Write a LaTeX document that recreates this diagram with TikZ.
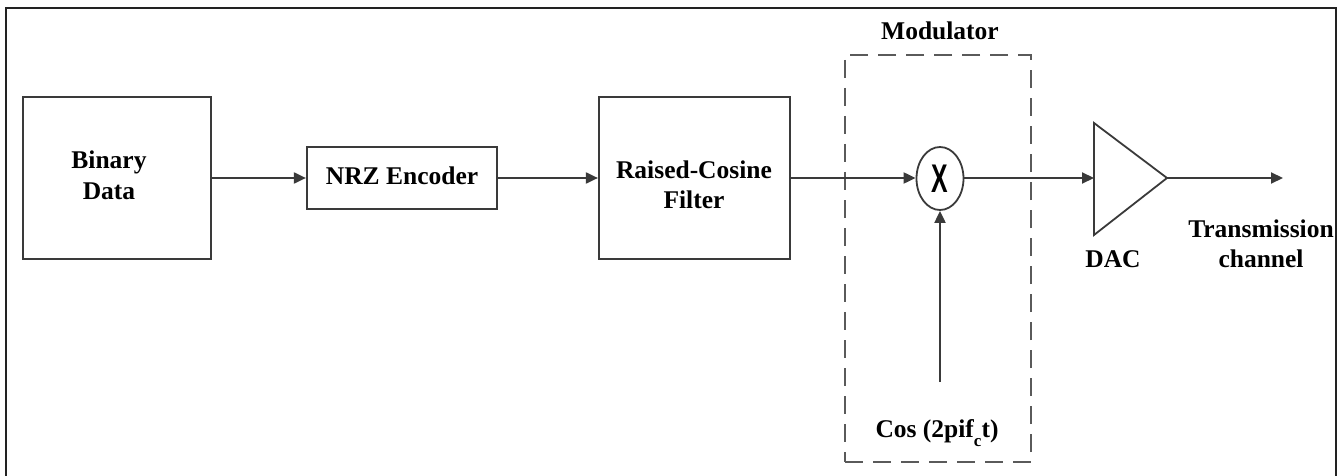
\documentclass[tikz,border=0pt]{standalone}
\usepackage{fontspec}
\usepackage{graphicx}
\setmainfont{Liberation Serif}
\setsansfont{Liberation Sans}
\usetikzlibrary{arrows.meta,shapes.geometric}
\definecolor{framecol}{HTML}{222222}
\definecolor{linecol}{HTML}{3A3A3A}
\definecolor{dashcol}{HTML}{5A5A5A}
\tikzset{
  blockbox/.style={draw=linecol, line width=2.2pt, rectangle, inner sep=0pt},
  lbl/.style={font=\bfseries\fontsize{25.5}{30.5}\selectfont, align=center, inner sep=0pt, text=black},
  sig/.style={draw=linecol, line width=2pt, -{Triangle[length=12pt,width=11pt]}},
  modbox/.style={draw=dashcol, line width=2pt, dash pattern=on 18pt off 10pt, rectangle, inner sep=0pt},
  mixer/.style={draw=linecol, line width=1.8pt, ellipse, inner sep=0pt, minimum width=47pt, minimum height=63pt},
  amp/.style={draw=linecol, line width=1.8pt, line join=miter},
}
\begin{document}
\begin{tikzpicture}[x=1pt,y=-1pt]
\useasboundingbox (0,0) rectangle (1344,476);
% outer frame (open at the bottom edge)
\draw[framecol, line width=2.6pt] (6,480) -- (6,8) -- (1336,8) -- (1336,480);

% processing blocks
\node[blockbox, minimum width=188pt, minimum height=162pt] (bin) at (117,178) {};
\node[lbl] (bintxt) at (109,175.5) {Binary\\Data};
\node[blockbox, minimum width=190pt, minimum height=62pt] (nrz) at (402,178) {};
\node[lbl] (nrztxt) at (402,176) {NRZ Encoder};
\node[blockbox, minimum width=191pt, minimum height=162pt] (rc) at (694.5,178) {};
\node[lbl] (rctxt) at (694,185) {Raised-Cosine\\Filter};

% modulator
\node[modbox, minimum width=186pt, minimum height=407pt] (mod) at (938,258.5) {};
\node[lbl, anchor=base] (modtxt) at (940,40) {Modulator};
\node[mixer] (mult) at (940,178.5) {\scalebox{0.62}[1]{\sffamily\bfseries\fontsize{40}{40}\selectfont X}};
\coordinate (lo) at (940,382);
\node[lbl, anchor=base] (lotxt) at (937,437) {Cos (2pif\raisebox{-9pt}{\fontsize{17}{17}\selectfont c}t)};

% DAC amplifier
\coordinate (dacT) at (1094,123);
\coordinate (dacB) at (1094,235);
\coordinate (dacP) at (1167,178);
\coordinate (dacin) at (1094,178);
\draw[amp] (dacT) -- (dacP) -- (dacB) -- cycle;
\node[lbl, anchor=base] (dactxt) at (1113,267) {DAC};
\coordinate (out) at (1283,178);
\node[lbl] (chtxt) at (1261,244) {Transmission\\channel};

% signal path
\draw[sig] (bin.east) -- (nrz.west);
\draw[sig] (nrz.east) -- (rc.west);
\draw[sig] (rc.east) -- (rc.east -| mult.west);
\draw[sig] (mult.east |- dacin) -- (dacin);
\draw[sig] (dacP) -- (out);
\draw[sig] (lo) -- (mult.south);
\end{tikzpicture}
\end{document}
